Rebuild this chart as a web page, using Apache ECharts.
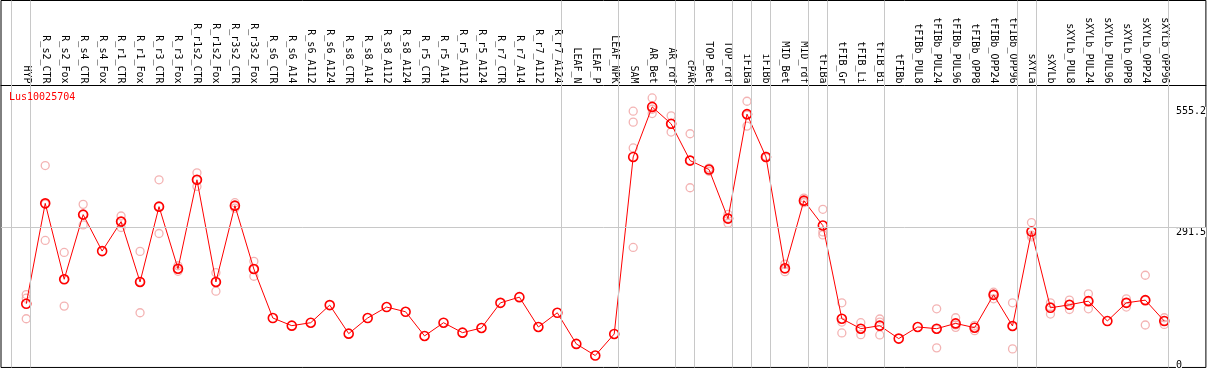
<!DOCTYPE html>
<html><head><meta charset="utf-8">
<script src="https://cdn.jsdelivr.net/npm/echarts@6/dist/echarts.min.js"></script>
<style>html,body{margin:0;padding:0;background:#fff}#c{width:1209px;height:370px}</style>
</head><body><div id="c"></div>
<script>
const chartTitle = 'Lus10025704';
const categories = ['HYP','R_s2_CTR','R_s2_Fox','R_s4_CTR','R_s4_Fox','R_r1_CTR','R_r1_Fox','R_r3_CTR','R_r3_Fox','R_r1s2_CTR','R_r1s2_Fox','R_r3s2_CTR','R_r3s2_Fox','R_s6_CTR','R_s6_A14','R_s6_A112','R_s6_A124','R_s8_CTR','R_s8_A14','R_s8_A112','R_s8_A124','R_r5_CTR','R_r5_A14','R_r5_A112','R_r5_A124','R_r7_CTR','R_r7_A14','R_r7_A112','R_r7_A124','LEAF_N','LEAF_P','LEAF_NPK','SAM','AR_Bet','AR_rdf','cPAR','TOP_Bet','TOP_rdf','iFIBa','iFIBb','MID_Bet','MID_rdf','tFIBa','tFIB_Gr','tFIB_Li','tFIB_Bi','tFIBb','tFIBb_PUL8','tFIBb_PUL24','tFIBb_PUL96','tFIBb_OPP8','tFIBb_OPP24','tFIBb_OPP96','sXYLa','sXYLb','sXYLb_PUL8','sXYLb_PUL24','sXYLb_PUL96','sXYLb_OPP8','sXYLb_OPP24','sXYLb_OPP96'];
const meanValues = [123.3,343.6,177.1,318.9,238.9,303.6,171.2,336.4,200.3,395.3,171.2,338.6,199.6,92.1,75.3,81.8,120.4,57.8,92.1,116.1,105.8,52.8,81.8,60,70.2,125.4,137.9,72.4,103.6,35.3,9.8,57.1,445.4,555.2,518.1,437.4,417.8,310.2,539.3,445.4,201.1,349.5,294.9,90.5,68.7,75.3,46.9,72.4,68.7,80.3,70.9,142.9,74.6,281.8,114.5,121.1,129.1,85.5,125.4,131.3,85.5];
const replicateValues = [
  [143.6,135.6,90.5],[426.5,342,262.2],[236,177,118.2],[341.4,319,296.3],[],[315.9,304,290.6],[238.2,172,103.6],[395.3,336,277.5],[206.8,199,194.6],[410.6,395,380.7],[191.5,171,151],[345,338,333],[216.4,199,183.7],
  [],[],[],[],[],[],[],[],[],[],[],[],[],[],[],[],[],[],[],
  [545.8,521.8,465.1,246.9],[574.8,550,540.6],[535.6,518,500],[496.3,438,377.8],[421,414,418],[319.6,311,300],[567.6,537,513.1],[447,444,445],[210.5,199,193.7],[355.2,348,345],[330.5,281,274.4],[125.4,83.3,59.3],[81.8,68.7,55.6],[89.9,83.3,55],
  [],[],[112.3,67,26.6],[92.7,77,71.6],[75.9,72,64.4],[148.8,145,134.2],[125.4,74,24.4],[301.5,274,270],[125.4,117,100.8],[131.3,121,110.8],[145.1,130,112.3],[],[134.2,126,116.1],[185.9,131,76.8],[92.7,86,78.1]
];
const yTickValues = [0, 291.5, 555.2];
const gridLineValues = [291.5];
const separatorsAfter = [-1, 0, 28, 31, 34, 35, 37, 38, 39, 41, 42, 45, 52, 53, 60];

const mono = 'DejaVu Sans Mono';
const meanData = meanValues.map((v, i) => [i, v]);
const repData = [];
replicateValues.forEach((arr, i) => arr.forEach(v => repData.push([i, v])));
const catIdx = categories.map((_, i) => i);

const chart = echarts.init(document.getElementById('c'), null, {renderer: 'canvas'});
chart.setOption({
  animation: false,
  backgroundColor: '#fff',
  title: {text: chartTitle, left: 9, top: 92, padding: 0,
    textStyle: {color: '#ff0000', fontFamily: mono, fontSize: 10, fontWeight: 'normal'}},
  grid: {left: 1, right: 1, top: 0.5, bottom: 1, show: true, borderColor: '#000', borderWidth: 1, backgroundColor: 'transparent'},
  xAxis: {
    type: 'value', min: -1.3316, max: 62.195, position: 'top', offset: -85,
    axisLine: {show: true, onZero: false, lineStyle: {color: '#000', width: 1}},
    axisTick: {show: false},
    splitLine: {show: false},
    axisLabel: {customValues: catIdx, rotate: 90, margin: 2, color: '#000', fontFamily: mono, fontSize: 10,
      padding: [0, 0, 4, 0],
      formatter: v => categories[Math.round(v)] || ''}
  },
  yAxis: {
    type: 'value', position: 'right', min: -16.36, max: 788.6,
    axisLine: {show: false}, axisTick: {show: false}, splitLine: {show: false},
    axisLabel: {customValues: yTickValues, inside: true, margin: 30, align: 'left', verticalAlign: 'top',
      color: '#000', fontFamily: mono, fontSize: 10, backgroundColor: '#fff',
      formatter: v => String(v)}
  },
  series: [
    {type: 'scatter', name: 'rep', data: repData, symbol: 'circle', symbolSize: 8, z: 2, silent: true,
      itemStyle: {color: 'rgba(0,0,0,0)', borderColor: '#f0a0a0', borderWidth: 1.3},
      markLine: {silent: true, symbol: 'none', label: {show: false}, animation: false,
        lineStyle: {color: '#c8c8c8', width: 1, type: 'solid'},
        data: separatorsAfter.map(i => ({xAxis: i + 0.23})).concat(gridLineValues.map(v => ({yAxis: v})))}
    },
    {type: 'line', name: 'mean', data: meanData, symbol: 'circle', symbolSize: 9, z: 3, silent: true,
      lineStyle: {color: '#ff0000', width: 1},
      itemStyle: {color: 'rgba(0,0,0,0)', borderColor: '#ff0000', borderWidth: 1.6}
    }
  ]
});
</script></body></html>
